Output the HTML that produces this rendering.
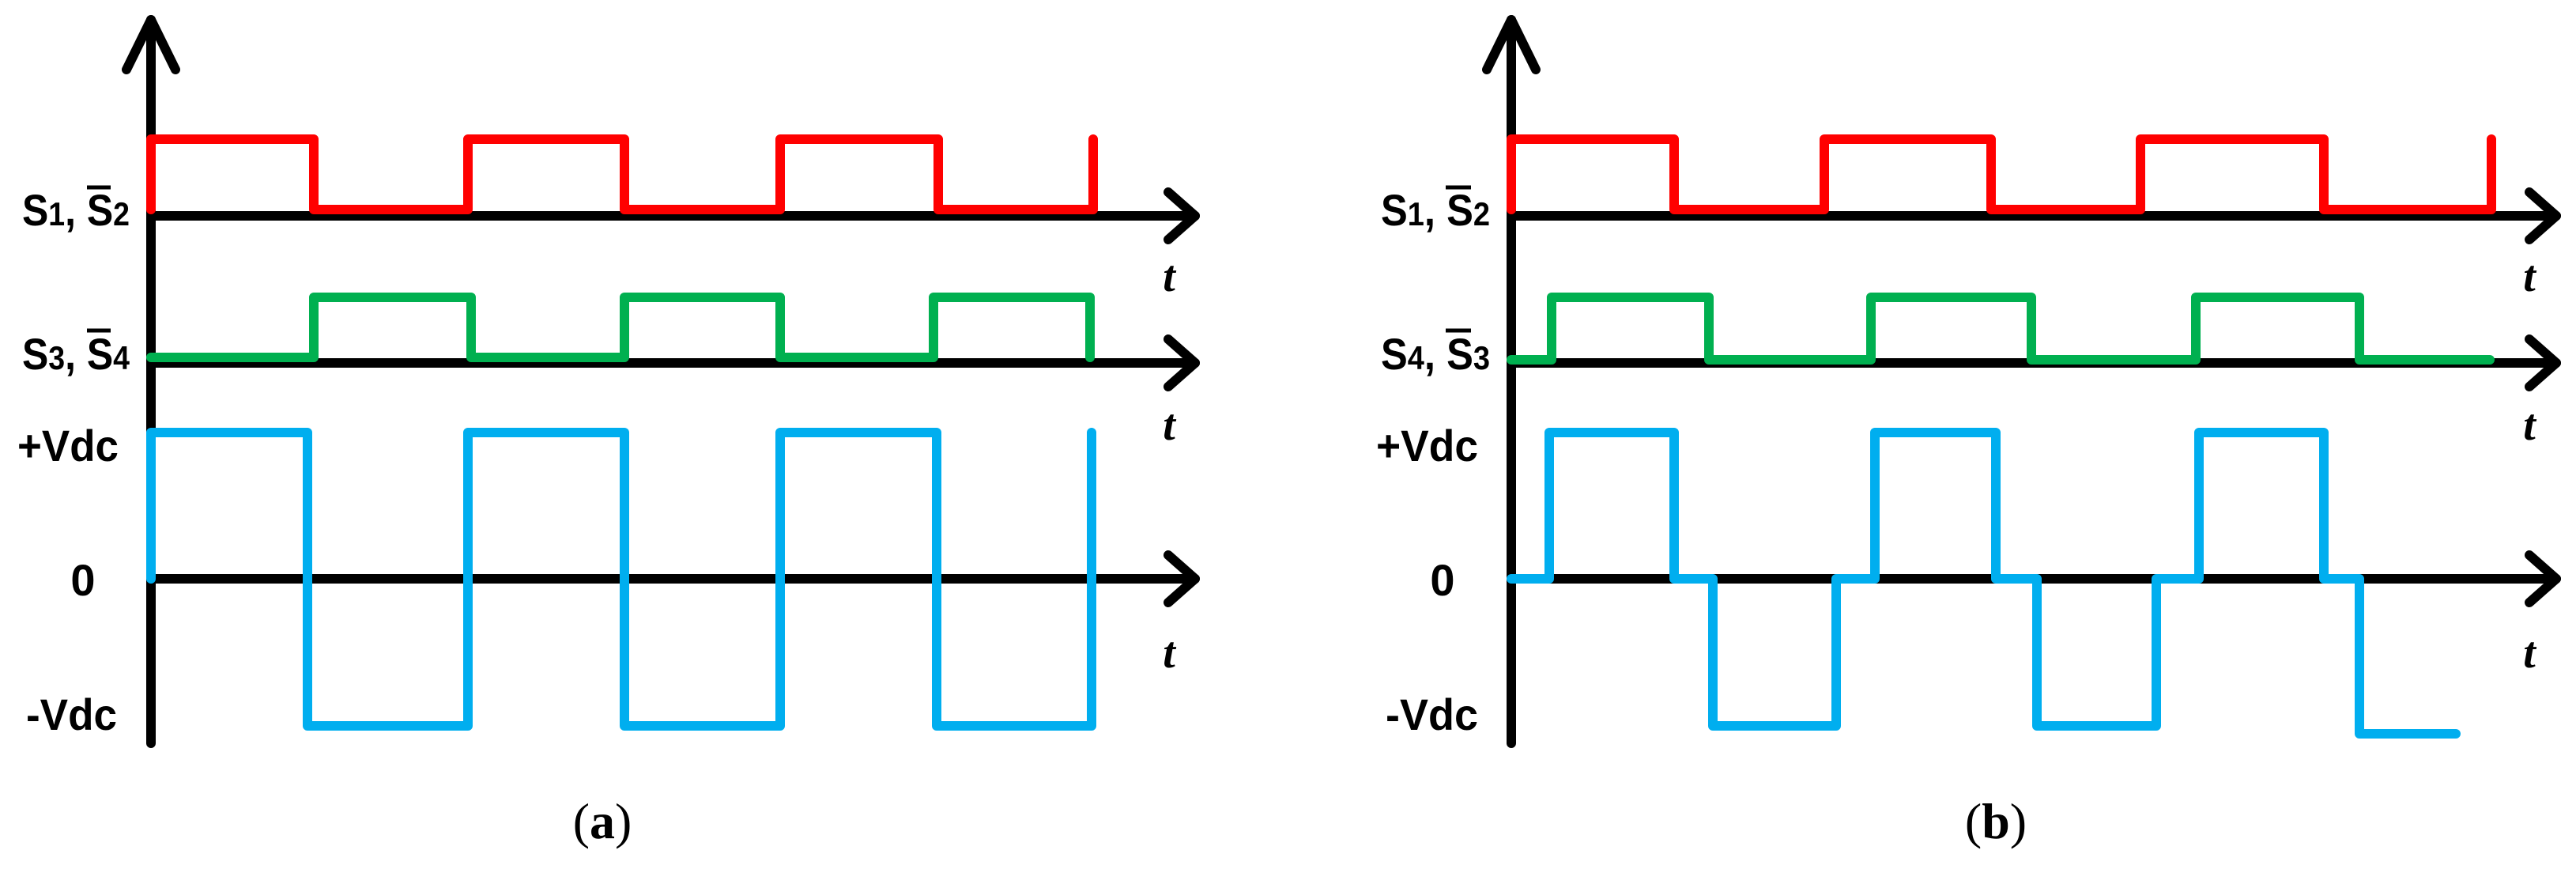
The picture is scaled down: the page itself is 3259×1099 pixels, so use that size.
<!DOCTYPE html>
<html><head><meta charset="utf-8"><style>html,body{margin:0;padding:0;background:#fff}svg{display:block}</style></head>
<body>
<svg width="3259" height="1099" viewBox="0 0 3259 1099" xmlns="http://www.w3.org/2000/svg">
<g fill="none" stroke-linecap="round" stroke-linejoin="round" stroke-width="12">
<!-- Left axes -->
<g stroke="#000">
<line x1="191" y1="25" x2="191" y2="940"/>
<polyline points="160,88 191,25 222,88"/>
<line x1="191" y1="273" x2="1512" y2="273"/><polyline points="1478,243 1512,273 1478,303"/>
<line x1="191" y1="459" x2="1512" y2="459"/><polyline points="1478,429 1512,459 1478,489"/>
<line x1="191" y1="732" x2="1512" y2="732"/><polyline points="1478,702 1512,732 1478,762"/>
</g>
<polyline stroke="#FF0000" points="191,265 191,176 397,176 397,265 592,265 592,176 790,176 790,265 987,265 987,176 1187,176 1187,265 1383,265 1383,176"/>
<polyline stroke="#00B050" points="191,452 397,452 397,376 596,376 596,452 790,452 790,376 987,376 987,452 1181,452 1181,376 1379,376 1379,452"/>
<polyline stroke="#00AEEF" points="191,732 191,547 389,547 389,918 592,918 592,547 790,547 790,918 987,918 987,547 1185,547 1185,918 1381,918 1381,547"/>
<!-- Right axes -->
<g stroke="#000">
<line x1="1912" y1="25" x2="1912" y2="940"/>
<polyline points="1881,88 1912,25 1943,88"/>
<line x1="1912" y1="273" x2="3234" y2="273"/><polyline points="3200,243 3234,273 3200,303"/>
<line x1="1912" y1="459" x2="3234" y2="459"/><polyline points="3200,429 3234,459 3200,489"/>
<line x1="1912" y1="732" x2="3234" y2="732"/><polyline points="3200,702 3234,732 3200,762"/>
</g>
<polyline stroke="#FF0000" points="1912,265 1912,176 2118,176 2118,265 2308,265 2308,176 2519,176 2519,265 2708,265 2708,176 2940,176 2940,265 3152,265 3152,176"/>
<polyline stroke="#00B050" points="1912,455 1963,455 1963,376 2162,376 2162,455 2367,455 2367,376 2570,376 2570,455 2778,455 2778,376 2985,376 2985,455 3150,455"/>
<polyline stroke="#00AEEF" points="1912,732 1960,732 1960,547 2118,547 2118,732 2167,732 2167,918 2323,918 2323,732 2372,732 2372,547 2525,547 2525,732 2577,732 2577,918 2728,918 2728,732 2782,732 2782,547 2940,547 2940,732 2985,732 2985,928 3107,928"/>
</g>
<g font-family="Liberation Sans, sans-serif" font-weight="bold" fill="#000" font-size="56">
<text x="28" y="285" textLength="136" lengthAdjust="spacingAndGlyphs">S<tspan font-size="42">1</tspan>, S<tspan font-size="42">2</tspan></text>
<text x="28" y="467" textLength="136" lengthAdjust="spacingAndGlyphs">S<tspan font-size="42">3</tspan>, S<tspan font-size="42">4</tspan></text>
<text x="22" y="583" textLength="128" lengthAdjust="spacingAndGlyphs">+Vdc</text>
<text x="105" y="753" text-anchor="middle">0</text>
<text x="33" y="923" textLength="115" lengthAdjust="spacingAndGlyphs">-Vdc</text>
<text x="1747" y="285" textLength="138" lengthAdjust="spacingAndGlyphs">S<tspan font-size="42">1</tspan>, S<tspan font-size="42">2</tspan></text>
<text x="1747" y="467" textLength="138" lengthAdjust="spacingAndGlyphs">S<tspan font-size="42">4</tspan>, S<tspan font-size="42">3</tspan></text>
<text x="1741" y="583" textLength="129" lengthAdjust="spacingAndGlyphs">+Vdc</text>
<text x="1825" y="753" text-anchor="middle">0</text>
<text x="1753" y="923" textLength="117" lengthAdjust="spacingAndGlyphs">-Vdc</text>
</g>
<g stroke="#000" stroke-width="5">
<line x1="110" y1="237" x2="140" y2="237"/>
<line x1="110" y1="418" x2="140" y2="418"/>
<line x1="1829" y1="237" x2="1861" y2="237"/>
<line x1="1829" y1="418" x2="1861" y2="418"/>
</g>
<g font-family="Liberation Serif, serif" font-weight="bold" font-style="italic" font-size="56" fill="#000" text-anchor="middle">
<text x="1479" y="368">t</text>
<text x="1479" y="556">t</text>
<text x="1479" y="844">t</text>
<text x="3200" y="368">t</text>
<text x="3200" y="556">t</text>
<text x="3200" y="844">t</text>
</g>
<g font-family="Liberation Serif, serif" font-size="64" fill="#000" text-anchor="middle">
<text x="762" y="1060">(<tspan font-weight="bold">a</tspan>)</text>
<text x="2525" y="1060">(<tspan font-weight="bold">b</tspan>)</text>
</g>
</svg>
</body></html>
